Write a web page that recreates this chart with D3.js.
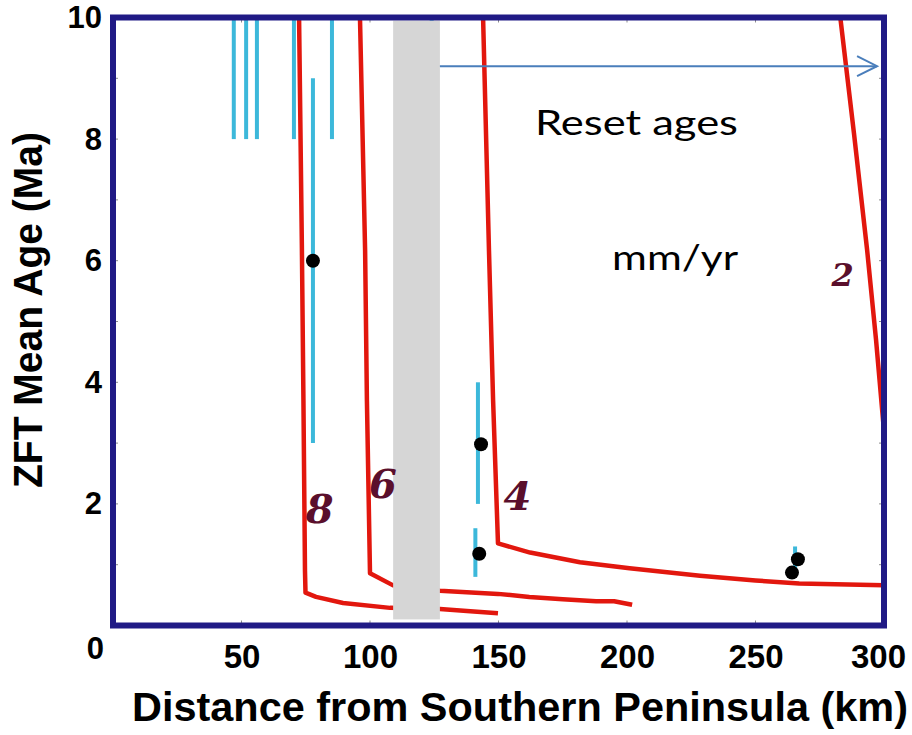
<!DOCTYPE html>
<html>
<head>
<meta charset="utf-8">
<script src="https://cdn.jsdelivr.net/npm/d3@7"></script>
<style>
  html, body { margin: 0; padding: 0; background: #fff; }
  svg { display: block; }
</style>
</head>
<body>
<div id="chart"></div>
<script>
// ---------------- DATA ----------------
const xTickValues = [50, 100, 150, 200, 250, 300];
const yTickValues = [0, 2, 4, 6, 8, 10];
const yMinorTicks = [1, 2, 3, 4, 5, 6, 7, 8, 9];

// Red model curves: [distance km, age Ma]
const curve8 = [[72.4,10],[73.5,6.2],[74.1,3.7],[74.7,0.9],[74.9,0.54],[79,0.47],[89.5,0.37],[107.8,0.29],[127.2,0.27],[137.7,0.24],[149.8,0.2]];
const curve6 = [[96.1,10],[98.1,6.16],[98.8,3.7],[100,0.86],[109,0.66],[127.2,0.57],[149.8,0.52],[162,0.47],[175,0.43],[188,0.40],[195,0.40],[202,0.34]];
const curve4 = [[144,10],[146.3,6.16],[147.9,3.7],[149.8,1.35],[162.3,1.2],[181.7,1.04],[201,0.94],[228.4,0.82],[250,0.74],[267,0.69],[300,0.66]];
const curve2 = [[283,10],[288.3,8.1],[293.4,6.19],[296.9,4.7],[300,3.2]];
const curves = [curve8, curve6, curve4, curve2];

// Curve labels (rate, mm/yr) and their positions
const curveLabels = ["8", "6", "4", "2"];
const curveLabelKm = [80.4, 105.0, 157.4, 283.9];
const curveLabelMa = [1.93, 2.34, 2.14, 5.76];

// Cyan age ranges (error bars)
const barKm = [47, 51.8, 56, 70.4, 77.8, 85.2, 124, 142, 141, 265.4];
const barLo = [8, 8, 8, 8, 3, 8, 8, 2, 0.8, 0.85];
const barHi = [10, 10, 10, 10, 9, 10, 10, 4, 1.6, 1.3];

// Black ZFT mean ages
const dotKm = [77.8, 143.2, 142.5, 266.5, 264.2];
const dotMa = [6.0, 2.98, 1.18, 1.09, 0.87];

// Gray band
const bandKm = [109, 127.2];
const bandMa = [0.1, 9.95];

// Arrow ("Reset ages")
const arrowKm = [127.2, 297.3];
const arrowMa = 9.2;

// Annotation texts
const noteTexts = ["Reset ages", "mm/yr"];
const noteKm = [164.2, 194.2];
const noteMa = [8.06, 5.84];

// ---------------- DRAW ----------------
const W = 912, H = 735;
const svg = d3.select("#chart").append("svg").attr("width", W).attr("height", H);

const x = d3.scaleLinear().domain([0, 300]).range([113, 884]);
const y = d3.scaleLinear().domain([0, 10]).range([625.5, 17.5]);

const tickColor = "#8c8c8c";
const frameColor = "#201a85";
const red = "#e2170e";
const cyan = "#3cb8da";
const labelColor = "#5a0f2c";
const axisFont = "'Liberation Sans', Arial, sans-serif";

// inward minor ticks (all four sides)
const tickG = svg.append("g").attr("stroke", tickColor).attr("stroke-width", 1);
yMinorTicks.forEach(v => {
  tickG.append("line").attr("x1", x(0)).attr("x2", x(0) + 5).attr("y1", y(v)).attr("y2", y(v));
  tickG.append("line").attr("x1", x(300)).attr("x2", x(300) - 5).attr("y1", y(v)).attr("y2", y(v));
});
xTickValues.filter(v => v < 300).forEach(v => {
  tickG.append("line").attr("x1", x(v)).attr("x2", x(v)).attr("y1", y(0)).attr("y2", y(0) - 5);
  tickG.append("line").attr("x1", x(v)).attr("x2", x(v)).attr("y1", y(10)).attr("y2", y(10) + 5);
});

// cyan error bars
svg.append("g").selectAll("line").data(barKm).join("line")
  .attr("x1", d => x(d)).attr("x2", d => x(d))
  .attr("y1", (d, i) => y(barHi[i])).attr("y2", (d, i) => y(barLo[i]))
  .attr("stroke", cyan).attr("stroke-width", 4);

// red curves
const line = d3.line().x(d => x(d[0])).y(d => y(d[1]));
svg.append("g").selectAll("path").data(curves).join("path")
  .attr("d", line)
  .attr("fill", "none").attr("stroke", red).attr("stroke-width", 4.5)
  .attr("stroke-linejoin", "round").attr("stroke-linecap", "butt");

// gray band
svg.append("rect")
  .attr("x", x(bandKm[0])).attr("width", x(bandKm[1]) - x(bandKm[0]))
  .attr("y", y(bandMa[1])).attr("height", y(bandMa[0]) - y(bandMa[1]))
  .attr("fill", "#d6d6d6");

// arrow
const ax0 = x(arrowKm[0]), ax1 = x(arrowKm[1]), ay = y(arrowMa);
svg.append("line").attr("x1", ax0).attr("x2", ax1).attr("y1", ay).attr("y2", ay)
  .attr("stroke", "#4a7ebb").attr("stroke-width", 2);
svg.append("path")
  .attr("d", `M${ax1 - 20},${ay - 10} L${ax1},${ay} L${ax1 - 20},${ay + 10}`)
  .attr("fill", "none").attr("stroke", "#4a7ebb").attr("stroke-width", 2);

// dots
svg.append("g").selectAll("circle").data(dotKm).join("circle")
  .attr("cx", d => x(d)).attr("cy", (d, i) => y(dotMa[i])).attr("r", 7)
  .attr("fill", "#000");

// curve labels
const labelSize = { "8": 40, "6": 40, "4": 40, "2": 32 };
svg.append("g").selectAll("text").data(curveLabels).join("text")
  .attr("x", (d, i) => x(curveLabelKm[i])).attr("y", (d, i) => y(curveLabelMa[i]))
  .attr("text-anchor", "middle").attr("dominant-baseline", "central")
  .attr("font-family", "'DejaVu Serif', 'Liberation Serif', serif")
  .attr("font-style", "italic").attr("font-weight", "bold")
  .attr("font-size", d => labelSize[d]).attr("fill", labelColor)
  .text(d => d);

// annotation texts
const noteLen = { "Reset ages": 203, "mm/yr": 126 };
svg.append("g").selectAll("text").data(noteTexts).join("text")
  .attr("x", (d, i) => x(noteKm[i])).attr("y", (d, i) => y(noteMa[i]))
  .attr("font-family", "Lato, 'Open Sans', sans-serif").attr("font-size", 35)
  .attr("textLength", d => noteLen[d]).attr("lengthAdjust", "spacingAndGlyphs")
  .attr("fill", "#000").text(d => d);

// frame
svg.append("rect")
  .attr("x", x(0)).attr("y", y(10)).attr("width", x(300) - x(0)).attr("height", y(0) - y(10))
  .attr("fill", "none").attr("stroke", frameColor).attr("stroke-width", 6);

// axes (labels only; ticks drawn above)
const yAxis = d3.axisLeft(y).tickValues(yTickValues).tickFormat(d3.format("d")).tickSize(0).tickPadding(11);
const gy = svg.append("g").attr("transform", `translate(${x(0)},0)`).call(yAxis);
gy.select(".domain").remove();
gy.selectAll("text").attr("font-family", axisFont).attr("font-weight", "bold").attr("font-size", 31).attr("fill", "#000");
gy.selectAll(".tick").filter(d => d === 0).select("text").attr("dy", "1.05em").attr("x", -9);

const xAxis = d3.axisBottom(x).tickValues(xTickValues).tickFormat(d3.format("d")).tickSize(0).tickPadding(19);
const gx = svg.append("g").attr("transform", `translate(0,${y(0)})`).call(xAxis);
gx.select(".domain").remove();
gx.selectAll("text").attr("font-family", axisFont).attr("font-weight", "bold").attr("font-size", 33).attr("fill", "#000");
gx.selectAll(".tick").filter(d => d === 300).select("text").attr("dx", -6);

// axis titles
svg.append("text")
  .attr("transform", "translate(42,310) rotate(-90)")
  .attr("text-anchor", "middle")
  .attr("font-family", axisFont).attr("font-weight", "bold").attr("font-size", 41)
  .attr("textLength", 356).attr("lengthAdjust", "spacingAndGlyphs")
  .text("ZFT Mean Age (Ma)");

svg.append("text")
  .attr("x", 520).attr("y", 721)
  .attr("text-anchor", "middle")
  .attr("font-family", axisFont).attr("font-weight", "bold").attr("font-size", 41)
  .attr("textLength", 776).attr("lengthAdjust", "spacingAndGlyphs")
  .text("Distance from Southern Peninsula (km)");
</script>
</body>
</html>
